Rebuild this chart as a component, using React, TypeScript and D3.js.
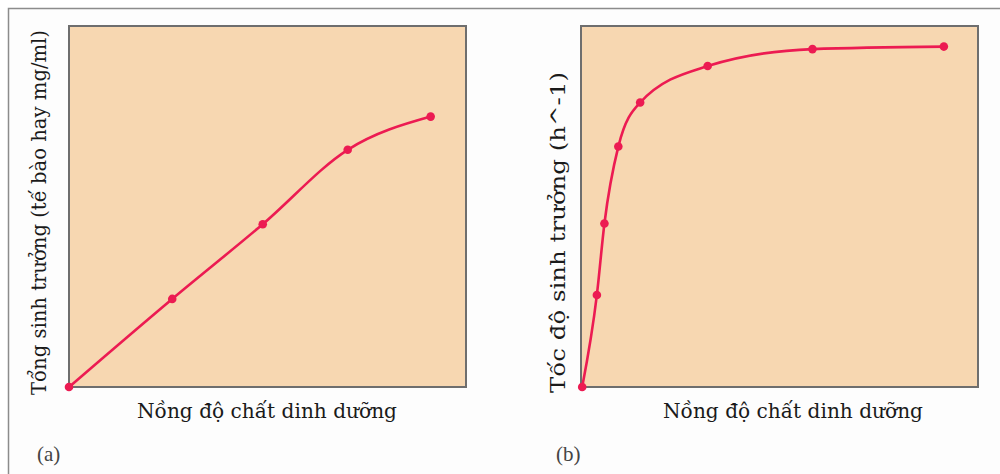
import React from 'react';
import * as d3 from 'd3';

const W = 1000;
const H = 474;

// panel (a): tổng sinh trưởng
const growthX = [0, 26.0, 48.8, 70.2, 91.1];
const growthY = [0, 24.4, 45.1, 65.7, 74.9];

// panel (b): tốc độ sinh trưởng
const rateX = [0.3, 4.0, 5.9, 9.4, 14.9, 31.9, 58.3, 91.4];
const rateY = [0, 25.5, 45.3, 66.6, 78.8, 88.9, 93.6, 94.3];

const xLabel = 'Nồng độ chất dinh dưỡng';
const yLabelA = 'Tổng sinh trưởng (tế bào hay mg/ml)';
const yLabelB = 'Tốc độ sinh trưởng (h^-1)';
const tags = ['(a)', '(b)'];

const FONT = '"DejaVu Serif", serif';
const TAG_FONT = '"Liberation Serif", serif';
const LINE = '#ec1b52';
const FILL = '#f7d7b1';

type PanelProps = {
  x0: number;
  xs: number[];
  ys: number[];
  yLabel: string;
  yLabelX: number;
  yLabelY: number;
  yLabelLen: number;
  xLabelX: number;
  tag: string;
  tagX: number;
};

const Panel = ({ x0, xs, ys, yLabel, yLabelX, yLabelY, yLabelLen, xLabelX, tag, tagX }: PanelProps) => {
  const top = 26;
  const bottom = 387;
  const w = 397;
  const xScale = d3.scaleLinear().domain([0, 100]).range([x0, x0 + w]);
  const yScale = d3.scaleLinear().domain([0, 100]).range([bottom, top]);
  const pts: [number, number][] = xs.map((x, i) => [x, ys[i]]);
  const line = d3
    .line<[number, number]>()
    .x((d) => xScale(d[0]))
    .y((d) => yScale(d[1]))
    .curve(d3.curveMonotoneX);

  return (
    <g>
      <rect x={x0 + 1} y={top + 1} width={w} height={bottom - top} fill="#b8b0a6" />
      <rect x={x0} y={top} width={w} height={bottom - top} fill={FILL} stroke="#6e6e6e" strokeWidth={2} />
      <path d={line(pts) || ''} fill="none" stroke={LINE} strokeWidth={2.6} />
      {pts.map((d, i) => (
        <circle key={i} cx={xScale(d[0])} cy={yScale(d[1])} r={4.3} fill={LINE} />
      ))}
      <text
        transform={`translate(${yLabelX},${yLabelY}) rotate(-90)`}
        textAnchor="middle"
        fontFamily={FONT}
        fontSize={21}
        fill="#1a1a1a"
        textLength={yLabelLen}
        lengthAdjust="spacingAndGlyphs"
      >
        {yLabel}
      </text>
      <text
        x={xLabelX}
        y={418}
        textAnchor="middle"
        fontFamily={FONT}
        fontSize={21}
        fill="#1a1a1a"
        textLength={260}
        lengthAdjust="spacingAndGlyphs"
      >
        {xLabel}
      </text>
      <text x={tagX} y={461} fontFamily={TAG_FONT} fontSize={21} fill="#444">
        {tag}
      </text>
    </g>
  );
};

const App = () => (
  <svg
    width={W}
    height={H}
    style={{ position: 'absolute', left: 0, top: 0, display: 'block', background: '#fff' }}
  >
    <rect x={8.5} y={8.5} width={W + 10} height={H + 10} fill="#fdfdfd" stroke="#8c8c8c" strokeWidth={1.5} />
    <Panel
      x0={69}
      xs={growthX}
      ys={growthY}
      yLabel={yLabelA}
      yLabelX={46}
      yLabelY={212.5}
      yLabelLen={365}
      xLabelX={267}
      tag={tags[0]}
      tagX={37}
    />
    <Panel
      x0={581}
      xs={rateX}
      ys={rateY}
      yLabel={yLabelB}
      yLabelX={565}
      yLabelY={232.5}
      yLabelLen={321}
      xLabelX={793}
      tag={tags[1]}
      tagX={556}
    />
  </svg>
);

export default App;
